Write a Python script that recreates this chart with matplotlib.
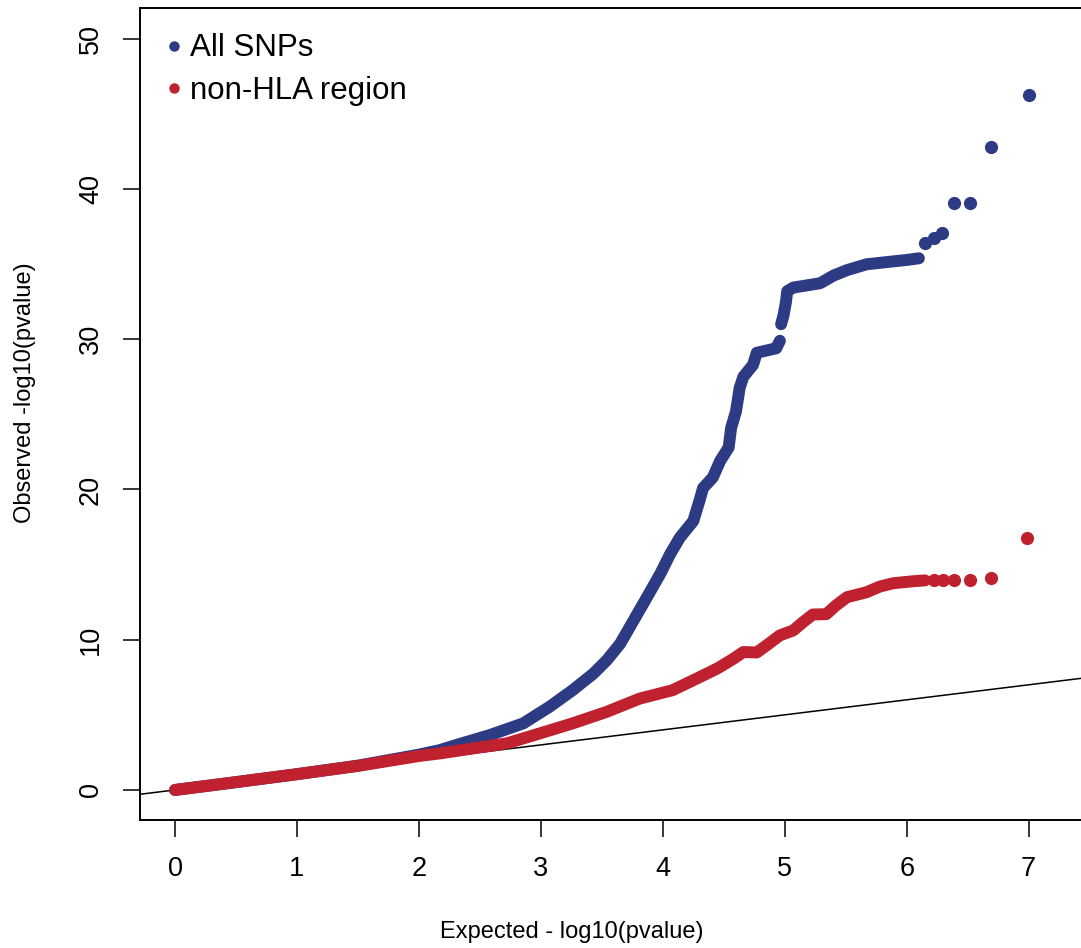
import numpy as np
import matplotlib.pyplot as plt
from matplotlib.lines import Line2D

plt.rcParams['font.family'] = ['Liberation Sans', 'DejaVu Sans']

# QQ plot values (expected vs observed -log10 p)
# nan marks the small gap in the all-SNP curve near 5
all_x = [0.0, 0.5, 1.0, 1.5, 2.0, 2.17, 2.31, 2.58, 2.855, 3.07, 3.26, 3.43, 3.54,
         3.65, 3.76, 3.87, 3.98, 4.06, 4.14, 4.25, 4.30, 4.33, 4.41, 4.47, 4.54,
         4.56, 4.60, 4.63, 4.66, 4.74, 4.77, 4.93, 4.96, np.nan, 4.97, 4.99, 5.01,
         5.02, 5.07, 5.29, 5.40, 5.51, 5.67, 6.0, 6.10]
all_y = [0.0, 0.52, 1.05, 1.62, 2.35, 2.65, 3.0, 3.65, 4.43, 5.53, 6.64, 7.74, 8.63,
         9.73, 11.28, 12.83, 14.4, 15.7, 16.8, 17.9, 19.24, 20.1, 20.8, 21.9, 22.8,
         24.1, 25.2, 26.76, 27.5, 28.3, 29.1, 29.4, 29.9, np.nan, 31.0, 31.6, 32.5,
         33.2, 33.44, 33.73, 34.24, 34.6, 34.99, 35.28, 35.39]
all_top_x = [6.15, 6.22, 6.29, 6.39, 6.52, 6.69, 7.0]
all_top_y = [36.43, 36.76, 37.07, 39.08, 39.08, 42.8, 46.23]

hla_x = [0.0, 0.5, 1.0, 1.5, 2.0, 2.17, 2.72, 2.99, 3.26, 3.54, 3.81, 4.08, 4.30,
         4.45, 4.58, 4.66, 4.77, 4.85, 4.96, 5.07, 5.15, 5.23, 5.34, 5.42, 5.51,
         5.67, 5.78, 5.89, 6.05, 6.15]
hla_y = [0.0, 0.52, 1.05, 1.6, 2.26, 2.43, 3.1, 3.76, 4.43, 5.2, 6.08, 6.64, 7.5,
         8.1, 8.74, 9.18, 9.15, 9.62, 10.29, 10.62, 11.17, 11.68, 11.7, 12.28, 12.83,
         13.16, 13.54, 13.76, 13.89, 13.95]
hla_top_x = [6.22, 6.30, 6.39, 6.52, 6.69, 6.99]
hla_top_y = [13.98, 13.99, 14.0, 14.0, 14.1, 16.77]

blue = '#2d3a84'
red = '#c0212e'

fig = plt.figure(figsize=(10.81, 9.48), dpi=100)
ax = fig.add_axes([140 / 1081, 128 / 948, 946 / 1081, 812 / 948])

ax.plot(all_x, all_y, color=blue, lw=8.6, solid_capstyle='round', solid_joinstyle='round')
ax.plot(all_top_x, all_top_y, 'o', color=blue, ms=9.5, mew=0)
ax.plot(hla_x, hla_y, color=red, lw=8.6, solid_capstyle='round', solid_joinstyle='round')
ax.plot(hla_top_x, hla_top_y, 'o', color=red, ms=9.5, mew=0)
ax.axline((0, 0), slope=1, color='black', lw=1.1, zorder=1)

ax.set_xlim(-0.287, 7.47)
ax.set_ylim(-2.0, 52.05)
ax.set_xticks(range(8))
ax.set_yticks(range(0, 51, 10))
ax.tick_params(direction='out', length=12, width=1.1, labelsize=19.5, pad=14)
ax.tick_params(axis='y', labelrotation=90)
for lab in ax.get_yticklabels():
    lab.set_va('center')
for s in ax.spines.values():
    s.set_linewidth(1.4)
ax.spines['right'].set_visible(False)

fig.text(572 / 1081, 1 - 932 / 948, 'Expected - log10(pvalue)', ha='center', va='center', fontsize=17)
fig.text(25 / 1081, 1 - 393 / 948, 'Observed -log10(pvalue)', ha='center', va='center',
         rotation=90, fontsize=17)

handles = [Line2D([], [], ls='none', marker='o', color=blue, ms=7.5, mew=0),
           Line2D([], [], ls='none', marker='o', color=red, ms=7.5, mew=0)]
ax.legend(handles, ['All SNPs', 'non-HLA region'], loc='upper left', frameon=False,
          fontsize=22.5, handlelength=0.4, handletextpad=0.3, labelspacing=0.4,
          bbox_to_anchor=(0.0163, 0.984), borderaxespad=0.0)

fig.savefig('out.png', dpi=100)
